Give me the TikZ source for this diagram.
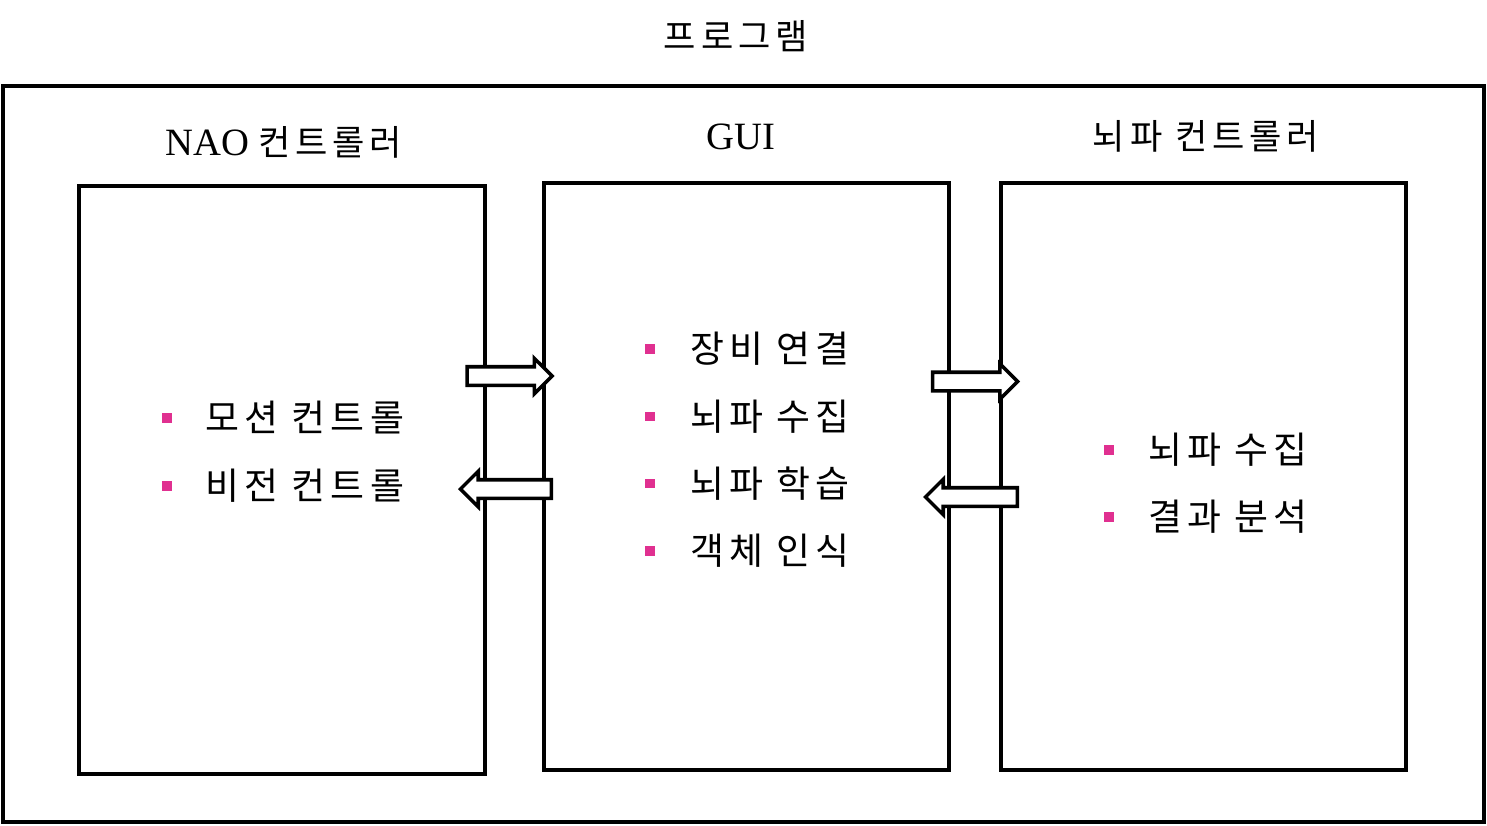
\documentclass[tikz,border=0pt]{standalone}
\usepackage{fontspec}
\setmainfont{Liberation Serif}
\newfontfamily\kr[LetterSpace=14]{Noto Sans CJK KR}
\usetikzlibrary{shapes.arrows}
\definecolor{bulletpink}{RGB}{224,48,144}
\tikzset{
  panel/.style={draw, line width=2pt, inner sep=0pt},
  flow/.style={single arrow, draw, fill=white, line width=2pt, anchor=tip,
    inner xsep=0pt, inner ysep=0.15cm, single arrow head extend=0.17cm},
  dot/.style={fill=bulletpink, inner sep=0pt, minimum size=0.19cm},
  item/.style={anchor=west, inner sep=0pt, font=\kr\fontsize{21}{24}\selectfont},
  head/.style={inner sep=0pt, font=\fontsize{20}{24}\selectfont}
}
\begin{document}
\begin{tikzpicture}[x=0.02cm, y=-0.02cm]
  \useasboundingbox (0,0) rectangle (1487,825);
  % title and frame
  \node[head] (prog) at (736,36) {\kr 프로그램};
  \node[panel, minimum width=29.62cm, minimum height=14.72cm] (frame) at (743.5,454) {};
  % three panels
  \node[panel, minimum width=8.12cm, minimum height=11.76cm] (nao) at (282,480) {};
  \node[panel, minimum width=8.10cm, minimum height=11.74cm] (gui) at (746.5,476.5) {};
  \node[panel, minimum width=8.10cm, minimum height=11.74cm] (eeg) at (1203.5,476.5) {};
  \node[head] (naot) at (284,142) {{\fontsize{22}{24}\selectfont NAO}\hspace{0.25em}{\kr 컨트롤러}};
  \node[head] (guit) at (741,137) {\fontsize{22}{24}\selectfont GUI};
  \node[head] (eegt) at (1206,136) {\kr 뇌파 컨트롤러};
  % items
  \foreach \t [count=\i] in {모션 컨트롤, 비전 컨트롤} {
    \node[dot] (nd\i) at (167,{418+68*(\i-1)}) {};
    \node[item] (ni\i) at (205,{418+68*(\i-1)}) {\t};
  }
  \foreach \t [count=\i] in {장비 연결, 뇌파 수집, 뇌파 학습, 객체 인식} {
    \node[dot] (gd\i) at (650,{349+67.3*(\i-1)}) {};
    \node[item] (gi\i) at (690,{349+67.3*(\i-1)}) {\t};
  }
  \foreach \t [count=\i] in {뇌파 수집, 결과 분석} {
    \node[dot] (ed\i) at (1109,{450+67*(\i-1)}) {};
    \node[item] (ei\i) at (1148,{450+67*(\i-1)}) {\t};
  }
  % arrows
  \node[flow, minimum height=1.7cm] (a1) at (554.5,376) {};
  \node[flow, minimum height=1.82cm, shape border rotate=180] (a2) at (458,489) {};
  \node[flow, minimum height=1.7cm] (a3) at (1020,381.5) {};
  \node[flow, minimum height=1.84cm, shape border rotate=180] (a4) at (923,497) {};
\end{tikzpicture}
\end{document}
